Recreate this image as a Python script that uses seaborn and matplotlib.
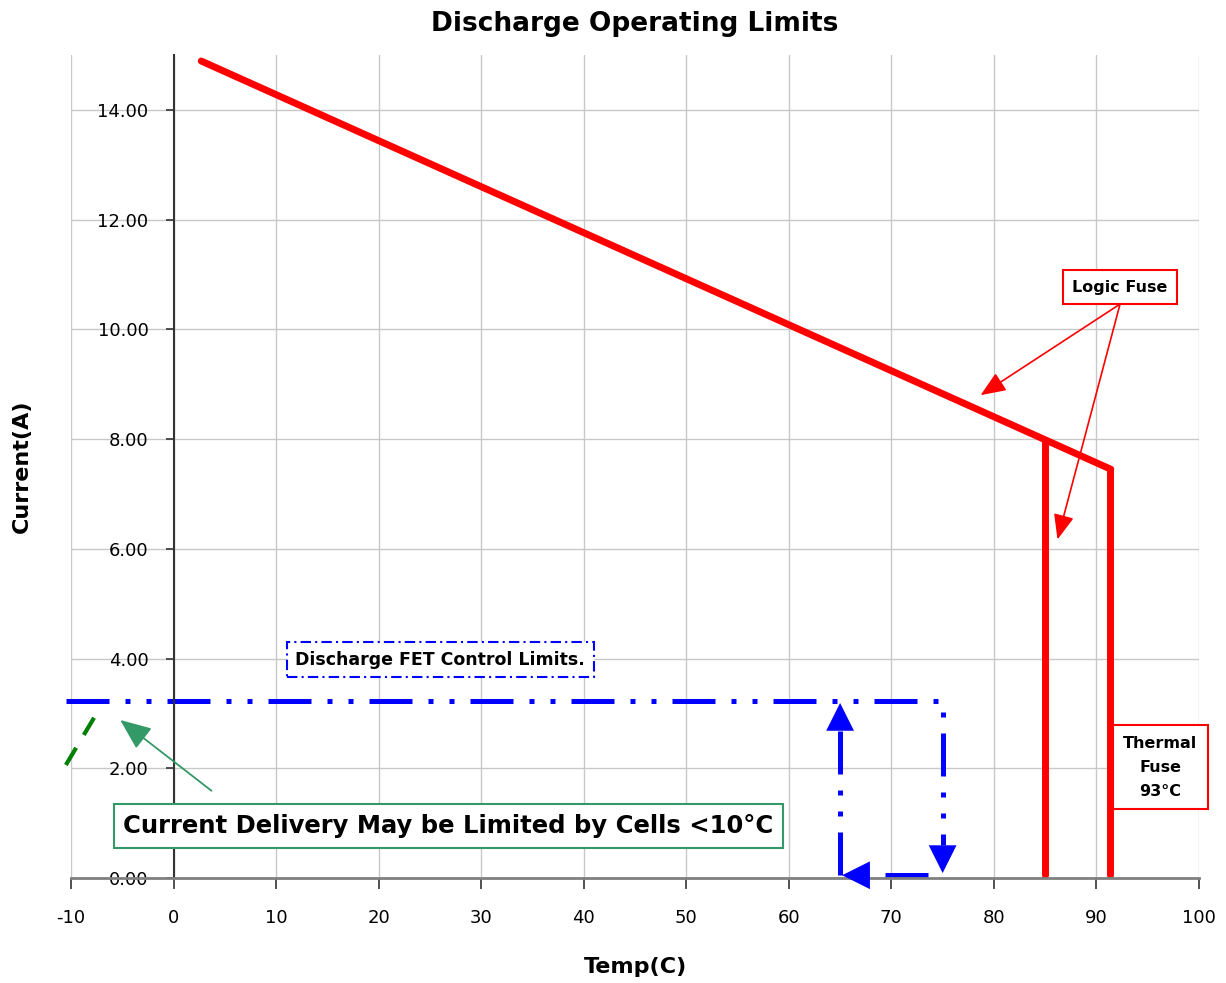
import pandas as pd
import seaborn as sns
import matplotlib.pyplot as plt

# logic fuse limit line (temp in C, current in A)
logic_temp = [2.7, 91.4]
logic_current = [14.89, 7.45]

# vertical fuse drops
logic_fuse_temp = [85.0, 85.0]
logic_fuse_current = [7.95, 0.05]
thermal_fuse_temp = [91.3, 91.3]
thermal_fuse_current = [7.45, 0.05]

# discharge FET control path
fet_temp = [-10.5, 75.0, 75.0]
fet_current = [3.22, 3.22, 0.6]
fet_back_temp = [73.6, 67.5]
fet_back_current = [0.05, 0.05]
fet_up_temp = [65.0, 65.0]
fet_up_current = [0.05, 2.7]

# cell limit below 10C
cell_temp = [-10.5, -7.5]
cell_current = [2.06, 3.0]

x_ticks = list(range(-10, 101, 10))
y_ticks = [0, 2, 4, 6, 8, 10, 12, 14]

sns.set_style('white')
plt.rcParams['font.family'] = ['DejaVu Sans']
plt.rcParams['text.color'] = 'black'
plt.rcParams['axes.labelcolor'] = 'black'
plt.rcParams['xtick.color'] = 'black'
plt.rcParams['ytick.color'] = 'black'
plt.rcParams['axes.unicode_minus'] = False

fig = plt.figure(figsize=(12.26, 9.83), dpi=100)
ax = fig.add_axes([71 / 1226, 105 / 983, 1128 / 1226, 823 / 983])

red = '#ff0000'
blue = '#0000ff'
fet_dash = (0, (8.6, 3.2, 1, 3.2, 1, 3.2))

sns.lineplot(x=logic_temp, y=logic_current, color=red, lw=5, ax=ax,
             estimator=None, sort=False)
sns.lineplot(x=logic_fuse_temp, y=logic_fuse_current, color=red, lw=5,
             ax=ax, estimator=None, sort=False)
sns.lineplot(x=thermal_fuse_temp, y=thermal_fuse_current, color=red, lw=5,
             ax=ax, estimator=None, sort=False)

for xs, ys in [(fet_temp, fet_current), (fet_back_temp, fet_back_current),
               (fet_up_temp, fet_up_current)]:
    sns.lineplot(x=xs, y=ys, color=blue, lw=3.6, ax=ax, estimator=None,
                 sort=False, linestyle=fet_dash, dash_capstyle='butt',
                 clip_on=False)

sns.lineplot(x=cell_temp, y=cell_current, color='#008000', lw=3,
             ax=ax, estimator=None, sort=False,
             linestyle=(0, (4.8, 3.6)), dash_capstyle='butt', clip_on=False)

# blue arrow heads
head = dict(arrowstyle='-|>,head_length=1.0,head_width=0.5', color=blue,
            lw=0, shrinkA=0, shrinkB=0, mutation_scale=20)
ax.annotate('', xy=(75, 0.09), xytext=(75, 1.5), arrowprops=head)
ax.annotate('', xy=(65.2, 0.05), xytext=(69, 0.05), arrowprops=head)
ax.annotate('', xy=(65, 3.19), xytext=(65, 2.0), arrowprops=head)

# text boxes
ax.text(92.3, 10.77, 'Logic Fuse', fontsize=11.5, fontweight='bold',
        ha='center', va='center',
        bbox=dict(boxstyle='square,pad=0.6', fc='white', ec=red, lw=1.5))
thin = dict(arrowstyle='-|>,head_length=1.1,head_width=0.45', color=red,
            lw=1.2, shrinkA=0, shrinkB=0, mutation_scale=14)
ax.annotate('', xy=(78.7, 8.8), xytext=(92.3, 10.46), arrowprops=thin)
ax.annotate('', xy=(86.2, 6.17), xytext=(92.3, 10.46), arrowprops=thin)

ax.text(96.2, 2.02, 'Thermal\nFuse\n93°C', fontsize=11.5, fontweight='bold',
        ha='center', va='center', linespacing=1.75, clip_on=False,
        bbox=dict(boxstyle='square,pad=0.65', fc='white', ec=red, lw=1.5))

ax.text(26.0, 3.98, 'Discharge FET Control Limits.', fontsize=12.5,
        fontweight='bold', ha='center', va='center',
        bbox=dict(boxstyle='square,pad=0.5', fc='white', ec=blue, lw=1.5,
                  ls=(0, (5, 2, 1, 2))))

green = '#339966'
ax.annotate('', xy=(-5.2, 2.88), xytext=(3.7, 1.59),
            arrowprops=dict(arrowstyle='-|>,head_length=1.2,head_width=0.5',
                            color=green, lw=1.3, shrinkA=0, shrinkB=0,
                            mutation_scale=16))
ax.text(26.8, 0.95, 'Current Delivery May be Limited by Cells <10°C',
        fontsize=17.5, fontweight='bold', ha='center', va='center',
        bbox=dict(boxstyle='square,pad=0.4', fc='white', ec=green, lw=1.5))

# axes, grid, ticks
ax.set_xlim(-10, 100)
ax.set_ylim(0, 15)
ax.set_xticks(x_ticks)
ax.set_yticks(y_ticks)
ax.set_yticklabels([f'{v:.2f}' for v in y_ticks])
ax.grid(True, color='#c8c8c8', lw=1)
ax.set_axisbelow(True)
for side in ['top', 'right']:
    ax.spines[side].set_visible(False)
ax.spines['left'].set_position(('data', 0))
ax.spines['left'].set_color('#333333')
ax.spines['left'].set_linewidth(1.5)
ax.spines['bottom'].set_color('#808080')
ax.spines['bottom'].set_linewidth(2)
ax.tick_params(axis='x', bottom=True, direction='out', length=8, width=1.2,
               color='#333333', pad=14, labelsize=13)
ax.tick_params(axis='y', left=True, direction='out', length=6, width=1.2,
               color='#333333', pad=12, labelsize=13)

ax.set_title('Discharge Operating Limits', fontsize=19, fontweight='bold',
             pad=17)
ax.set_xlabel('Temp(C)', fontsize=16, fontweight='bold', labelpad=22)
ax.set_ylabel('Current(A)', fontsize=16, fontweight='bold')
ax.yaxis.set_label_coords(-0.035, 0.5)

plt.savefig('out.png', dpi=100)
